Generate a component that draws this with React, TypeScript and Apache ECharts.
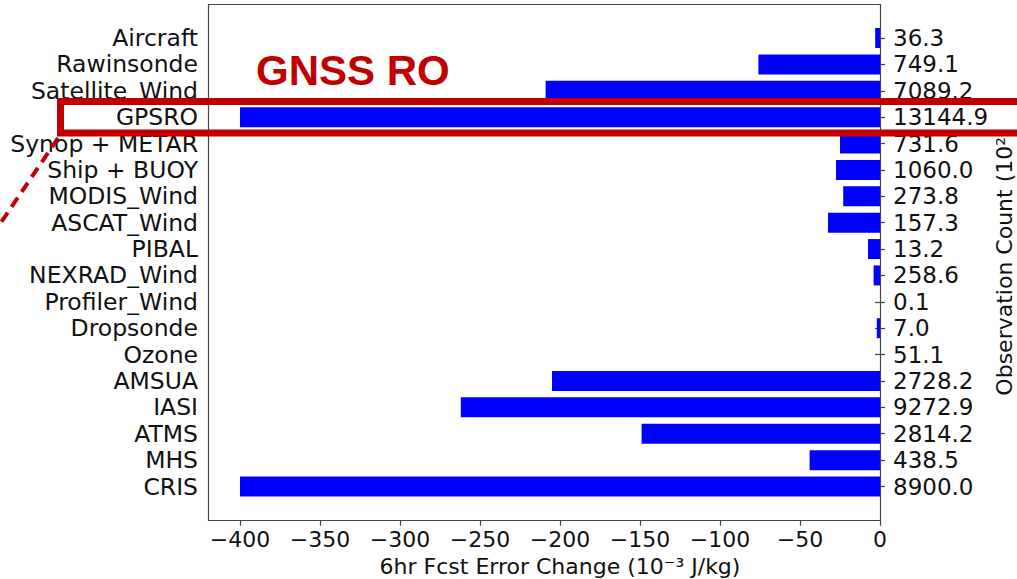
import React, { useEffect, useRef } from "react";
import * as echarts from "echarts";

const categories = [
  "Aircraft", "Rawinsonde", "Satellite_Wind", "GPSRO", "Synop + METAR", "Ship + BUOY",
  "MODIS_Wind", "ASCAT_Wind", "PIBAL", "NEXRAD_Wind", "Profiler_Wind", "Dropsonde",
  "Ozone", "AMSUA", "IASI", "ATMS", "MHS", "CRIS",
];
const errorChange = [-3, -76, -209, -400, -25, -27.5, -23, -32.5, -7.5, -4, 0, -2, 0, -205, -262, -149, -44, -400];
const obsCounts = [36.3, 749.1, 7089.2, 13144.9, 731.6, 1060.0, 273.8, 157.3, 13.2, 258.6, 0.1, 7.0, 51.1, 2728.2, 9272.9, 2814.2, 438.5, 8900.0];
const xMin = -400;
const xMax = 0;
const xStep = 50;

const FONT = "DejaVu Sans";
const RED = "#C00000";

export default function App() {
  const ref = useRef<HTMLDivElement>(null);
  useEffect(() => {
    if (!ref.current) return;
    const chart = echarts.init(ref.current, null, { renderer: "svg" });
    chart.setOption({
      animation: false,
      backgroundColor: "#ffffff",
      grid: {
        left: 240,
        right: 137,
        top: 24.8,
        height: 474.9,
        containLabel: false,
        outerBoundsMode: "none",
      },
      xAxis: {
        type: "value",
        min: xMin,
        max: xMax,
        interval: xStep,
        position: "bottom",
        offset: 21,
        axisLine: { show: false },
        axisTick: { show: true, length: 5, lineStyle: { color: "#444", width: 1.2 } },
        splitLine: { show: false },
        axisLabel: {
          fontSize: 22,
          color: "#111",
          fontFamily: FONT,
          margin: 8,
          formatter: (v: number) => (v < 0 ? "\u2212" + Math.abs(v) : String(v)),
        },
        name: "6hr Fcst Error Change (10\u207B\u00B3 J/kg)",
        nameLocation: "middle",
        nameGap: 35,
        nameTextStyle: { fontSize: 22, color: "#111", fontFamily: FONT },
      },
      yAxis: [
        {
          type: "category",
          data: categories,
          inverse: true,
          position: "left",
          offset: 32,
          axisLine: { show: false },
          axisTick: { show: true, alignWithLabel: true, length: 5, lineStyle: { color: "#444", width: 1.2 } },
          axisLabel: { fontSize: 23.5, color: "#111", fontFamily: FONT, margin: 10, interval: 0 },
        },
        {
          type: "category",
          data: obsCounts.map((c) => c.toFixed(1)),
          inverse: true,
          position: "right",
          axisLine: { show: false },
          axisTick: { show: true, alignWithLabel: true, length: 5, lineStyle: { color: "#444", width: 1.2 } },
          axisLabel: { fontSize: 23, color: "#111", fontFamily: FONT, margin: 13, interval: 0 },
        },
      ],
      series: [
        {
          type: "bar",
          data: errorChange,
          yAxisIndex: 0,
          barWidth: 20,
          itemStyle: { color: "#0000ff" },
        },
      ],
      graphic: [
        {
          type: "rect",
          shape: { x: 208.5, y: 4.5, width: 672, height: 516 },
          style: { fill: "none", stroke: "#444", lineWidth: 1.2 },
          z: 50,
        },
        {
          type: "text",
          x: 1004,
          y: 262,
          rotation: Math.PI / 2,
          style: {
            text: "Observation Count (10\u00B2)",
            fill: "#111",
            font: "22px 'DejaVu Sans'",
            align: "center",
            verticalAlign: "middle",
          },
          z: 60,
        },
        {
          type: "rect",
          shape: { x: 60.5, y: 101.5, width: 1000, height: 31.5 },
          style: { fill: "none", stroke: RED, lineWidth: 7 },
          z: 100,
        },
        {
          type: "line",
          shape: { x1: 58, y1: 138, x2: 0, y2: 224 },
          style: { stroke: RED, lineWidth: 4, lineDash: [11, 7] },
          z: 100,
        },
        {
          type: "text",
          x: 256,
          y: 70,
          style: {
            text: "GNSS RO",
            fill: RED,
            font: "bold 42px 'Liberation Sans', Arial, sans-serif",
            textVerticalAlign: "middle",
          },
          z: 100,
        },
      ],
    });
    return () => chart.dispose();
  }, []);
  return (
    <div
      ref={ref}
      style={{ position: "fixed", left: 0, top: 0, width: 1017, height: 579, background: "#fff" }}
    />
  );
}
